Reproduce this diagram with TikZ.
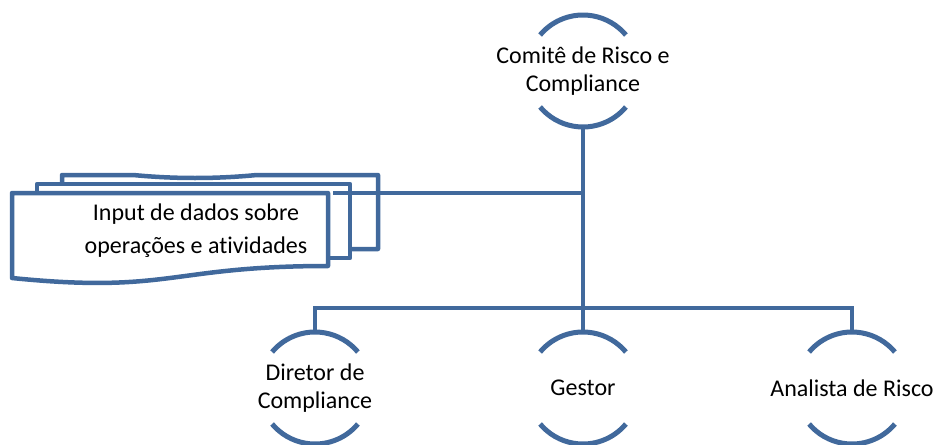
\documentclass[tikz,border=0pt]{standalone}
\usepackage{fontspec}
\setmainfont{Carlito}[Ligatures=NoCommon]
\usepackage{tikz}
\usetikzlibrary{calc}
\definecolor{orgblue}{RGB}{65,105,156}
\tikzset{
  role/.style={rectangle, align=center, inner sep=0pt, font=\fontsize{24}{27.5}\selectfont},
  doctext/.style={rectangle, align=center, inner sep=0pt, font=\fontsize{24}{33}\selectfont},
  arcline/.style={line width=5pt, draw=orgblue},
  link/.style={line width=4.5pt, draw=orgblue},
  docsheet/.style={line width=4.5pt, draw=orgblue, fill=white, line join=round}
}
% radius of the half-open role circles
\newcommand{\rolerad}{56}

\begin{document}
\begin{tikzpicture}[x=1pt,y=-1pt]
\useasboundingbox (0,0) rectangle (936,444);

% stacked sheets, back to front
\draw[docsheet] (62,175) -- (133,175) .. controls (175,179) and (215,179) .. (257,175) -- (378,175) -- (378,249) -- (62,249) -- cycle;
\draw[docsheet] (37,184) -- (350,184) -- (350,258) -- (37,258) -- cycle;
\draw[docsheet] (12,193) -- (328,193) -- (328,266) .. controls (170,266) and (170,294) .. (12,278) -- cycle;
\node[doctext] (docs) at (196,231) {Input de dados sobre\\operações e atividades};
\coordinate (docsE) at (333,193);

% roles
\node[role] (comite) at (583,71) {Comitê de Risco e\\Compliance};
\node[role] (diretor) at (315,388) {Diretor de\\Compliance};
\node[role] (gestor) at (583,388) {Gestor};
\node[role] (analista) at (852,388) {Analista de Risco};

\foreach \n in {comite,diretor,gestor,analista}{
  \draw[arcline] (\n.center) ++(40:\rolerad) arc (40:140:\rolerad);
  \draw[arcline] (\n.center) ++(220:\rolerad) arc (220:320:\rolerad);
}

% connectors
\coordinate (bus) at (583,308);
\draw[link] ([yshift=-\rolerad pt]comite.center) -- (bus);
\draw[link] (docsE) -- (comite.center |- docsE);
\draw[link] (bus) -| ([yshift=\rolerad pt]diretor.center);
\draw[link] (bus) -| ([yshift=\rolerad pt]analista.center);
\draw[link] (bus) -- ([yshift=\rolerad pt]gestor.center);
\end{tikzpicture}
\end{document}
